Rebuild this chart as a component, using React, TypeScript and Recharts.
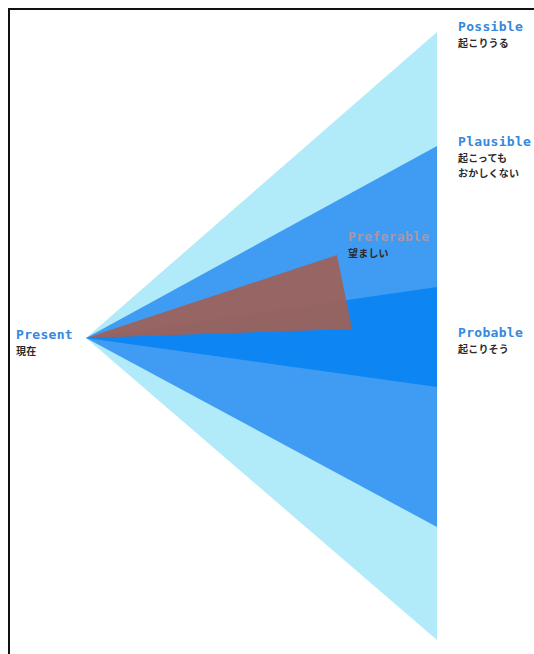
import React from "react";
import { ComposedChart, Area, XAxis, YAxis } from "recharts";

// x: 0 = present (apex), 100 = horizon edge. y: offset from the centre line (up is +)
const possible = [
  { x: 0, range: [0, 0] },
  { x: 100, range: [-302, 306] },
];
const plausible = [
  { x: 0, range: [0, 0] },
  { x: 100, range: [-189, 192] },
];
const probable = [
  { x: 0, range: [0, 0] },
  { x: 100, range: [-49, 51] },
];
const preferable = [
  { x: 0, range: [0, 0] },
  { x: 71.5, range: [8.5, 83] },
  { x: 75.8, range: [9, 9] },
];

const W = 534;
const H = 654;

const EN = '"DejaVu Sans Mono", monospace';
const JP = '"Noto Sans CJK JP", sans-serif';

interface LabelProps {
  x: number;
  y: number;
  en: string;
  jp: string[];
  enColor?: string;
}

function Label({ x, y, en, jp, enColor = "#3588dc" }: LabelProps) {
  return (
    <div style={{ position: "absolute", left: x, top: y }}>
      <div
        style={{
          fontFamily: EN,
          fontWeight: 700,
          fontSize: 13,
          lineHeight: "16px",
          letterSpacing: 0.3,
          color: enColor,
          whiteSpace: "nowrap",
        }}
      >
        {en}
      </div>
      {jp.map((t) => (
        <div
          key={t}
          style={{
            fontFamily: JP,
            fontWeight: 700,
            fontSize: 10,
            lineHeight: "15px",
            letterSpacing: 0.2,
            color: "#2a2a2a",
            whiteSpace: "nowrap",
          }}
        >
          {t}
        </div>
      ))}
    </div>
  );
}

export default function App() {
  return (
    <div
      style={{
        position: "relative",
        width: W,
        height: H,
        overflow: "hidden",
        background: "#fff",
      }}
    >
      <style>{"body{margin:0}"}</style>
      <div
        style={{
          position: "absolute",
          left: 8,
          top: 8,
          width: 700,
          height: 800,
          borderLeft: "2px solid #111",
          borderTop: "2px solid #111",
        }}
      />
      <div style={{ position: "absolute", left: 0, top: 0 }}>
        <ComposedChart
          width={W}
          height={H}
          margin={{ top: 28, right: 97, bottom: 6, left: 86 }}
        >
          <XAxis type="number" dataKey="x" domain={[0, 100]} hide />
          <YAxis type="number" domain={[-310, 310]} hide />
          <Area
            data={possible}
            dataKey="range"
            type="linear"
            stroke="none"
            fill="#b1ebfa"
            fillOpacity={1}
            isAnimationActive={false}
          />
          <Area
            data={plausible}
            dataKey="range"
            type="linear"
            stroke="none"
            fill="#409cf3"
            fillOpacity={1}
            isAnimationActive={false}
          />
          <Area
            data={probable}
            dataKey="range"
            type="linear"
            stroke="none"
            fill="#0d86f3"
            fillOpacity={1}
            isAnimationActive={false}
          />
          <Area
            data={preferable}
            dataKey="range"
            type="linear"
            stroke="none"
            fill="#9c625b"
            fillOpacity={0.95}
            isAnimationActive={false}
          />
        </ComposedChart>
      </div>
      <Label x={458} y={19} en="Possible" jp={["起こりうる"]} />
      <Label x={458} y={134} en="Plausible" jp={["起こっても", "おかしくない"]} />
      <Label x={348} y={229} en="Preferable" jp={["望ましい"]} enColor="#a997a8" />
      <Label x={16} y={327} en="Present" jp={["現在"]} />
      <Label x={458} y={325} en="Probable" jp={["起こりそう"]} />
    </div>
  );
}
